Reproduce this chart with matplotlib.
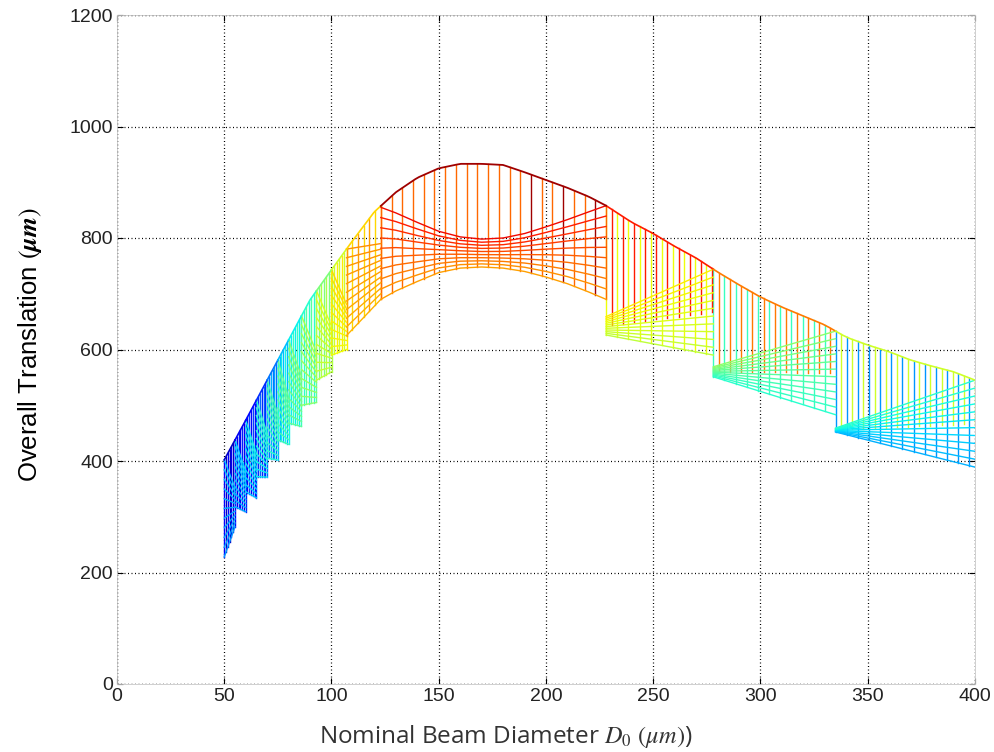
import numpy as np
import matplotlib
matplotlib.use("Agg")
import matplotlib.pyplot as plt

# ---------------- data ----------------
# upper envelope of the mesh
env_D = [50, 60, 70, 80, 90, 100, 110, 120, 130, 140, 150, 160, 170, 180, 190,
         200, 210, 220, 228, 240, 250, 260, 270, 280, 290, 300, 310, 320, 330,
         340, 350, 360, 370, 380, 390, 400]
env_T = [402, 473, 545, 617, 689, 743, 796, 847, 882, 908, 925, 933, 933, 931, 918,
         904, 890, 874, 858, 828, 808, 785, 764, 739, 716, 694, 676, 660, 644,
         622, 608, 596, 581, 570, 560, 545]

# small saw-tooth segments on the rising side
left_start = [50, 55, 60, 65, 70, 75, 80, 86, 93, 100, 107]
left_end = [55, 60, 65, 70, 75, 80, 86, 93, 100, 107, 123]
left_bot_start = [228, 318, 345, 372, 405, 438, 468, 500, 545, 590, 625]
left_bot_end = [282, 309, 334, 371, 402, 430, 462, 505, 560, 600, 690]
left_top_end = [352, 382, 413, 449, 483, 514, 552, 595, 642, 681, 790]
left_vcolor = [0.06, 0.10, 0.13, 0.17, 0.24, 0.31, 0.36, 0.40, 0.50, 0.60, 0.68]
left_rcolor = [0.28, 0.30, 0.33, 0.36, 0.40, 0.43, 0.47, 0.52, 0.58, 0.64, 0.72]

# central segment (curved rows)
mid_D = [123, 130, 140, 150, 160, 170, 180, 190, 200, 210, 220, 228]
mid_top = [855, 845, 828, 812, 802, 798, 800, 808, 820, 833, 847, 858]
mid_bot = [690, 705, 722, 738, 746, 748, 746, 740, 730, 718, 703, 690]

# large saw-tooth segments on the falling side
right_start = [228, 278, 335]
right_end = [278, 335, 400]
right_bot_start = [626, 551, 452]
right_top_start = [659, 569, 459]
right_bot_end = [590, 483, 389]
right_vcolor_a = [0.88, 0.78, 0.60]
right_vcolor_b = [0.64, 0.42, 0.27]
right_rcolor_top = [0.66, 0.52, 0.40]
right_rcolor_bot = [0.58, 0.40, 0.30]

x_ticks = [0, 50, 100, 150, 200, 250, 300, 350, 400]
y_ticks = [0, 200, 400, 600, 800, 1000, 1200]

# ---------------- drawing ----------------
cmap = plt.get_cmap("jet")
plt.rcParams["mathtext.fontset"] = "stix"
fig = plt.figure(figsize=(9.95, 7.52), dpi=100)
ax = fig.add_axes([117 / 995, 68 / 752, 858 / 995, 669 / 752])

LW = 1.0


def env(d):
    return np.interp(d, env_D, env_T)


def draw_seg(s, e, bs, ts, be, te, step, vca, vcb, rct, rcb, n_rows, full_b=True):
    cols = np.arange(s, e + 1e-6, step)
    for i, d in enumerate(cols):
        f = (d - s) / (e - s)
        bot = bs + (be - bs) * f
        top_band = ts + (te - ts) * f
        if i % 2 == 0:
            ax.plot([d, d], [bot, env(d)], color=cmap(vcb), lw=LW, zorder=2)
        else:
            lo = bot if full_b else 0.5 * (bot + top_band)
            ax.plot([d, d], [lo, env(d)], color=cmap(vca), lw=LW, zorder=2.2)
    for j in range(n_rows):
        f = j / (n_rows - 1)
        y0 = bs + (ts - bs) * f
        y1 = be + (te - be) * f
        ax.plot([s, e], [y0, y1], color=cmap(rcb + (rct - rcb) * f), lw=LW, zorder=3)
    dd = np.linspace(s, e, 20)
    ax.plot(dd, env(dd), color=cmap(vca), lw=1.2, zorder=4)


for k in range(len(left_start)):
    s, e = left_start[k], left_end[k]
    draw_seg(s, e, left_bot_start[k], env(s), left_bot_end[k], left_top_end[k],
             (e - s) / 6.0, left_vcolor[k], left_vcolor[k] + 0.06,
             left_rcolor[k] + 0.04, left_rcolor[k], 11)

for k in range(len(right_start)):
    s, e = right_start[k], right_end[k]
    draw_seg(s, e, right_bot_start[k], right_top_start[k], right_bot_end[k], env(e),
             2.6, right_vcolor_a[k], right_vcolor_b[k],
             right_rcolor_top[k], right_rcolor_bot[k], 12, full_b=False)

# central segment
mD = np.array(mid_D, float)
mt = np.array(mid_top, float)
mb = np.array(mid_bot, float)
cols = np.arange(mid_D[0], mid_D[-1] + 1e-6, 5.0)
for i, d in enumerate(cols):
    c = cmap(0.80) if (i % 3 != 2 or d < 180) else cmap(0.97)
    ax.plot([d, d], [np.interp(d, mD, mb), env(d)], color=c, lw=LW, zorder=2)
n_mid = 10
for j in range(n_mid):
    f = j / (n_mid - 1)
    ax.plot(mD, mb + (mt - mb) * f, color=cmap(0.74 + 0.16 * f), lw=LW, zorder=3)
dd = np.linspace(mid_D[0], mid_D[-1], 60)
ax.plot(dd, env(dd), color=cmap(0.97), lw=1.3, zorder=4)

# ---------------- axes styling (MATLAB look) ----------------
ax.set_xlim(0, 400)
ax.set_ylim(0, 1200)
ax.set_xticks(x_ticks)
ax.set_yticks(y_ticks)
ax.set_xticklabels([str(v) for v in x_ticks], family="Liberation Sans", fontsize=14, color="#222222")
ax.set_yticklabels([str(v) for v in y_ticks], family="Liberation Sans", fontsize=14, color="#222222")
ax.tick_params(direction="in", length=4, width=0.8, top=True, right=True, pad=3)
ax.grid(True, color="black", linestyle=(0, (0.8, 2.0)), linewidth=0.9)
ax.set_axisbelow(True)
for sp in ax.spines.values():
    sp.set_color("#c8c8c8")
    sp.set_linewidth(0.6)

for xv in (0, 400):
    ax.axvline(xv, color="black", linestyle=(0, (0.8, 2.0)), linewidth=0.9, zorder=0.5)
for yv in (0, 1200):
    ax.axhline(yv, color="black", linestyle=(0, (0.8, 2.0)), linewidth=0.9, zorder=0.5)

fig.text(30 / 995, 1 - 345 / 752, r"Overall Translation $(\boldsymbol{\mu m})$",
         rotation=90, ha="center", va="center", fontsize=18.5, family="Liberation Sans")
fig.text(506 / 995, 1 - 736 / 752, r"Nominal Beam Diameter $D_0$ $(\mu m)$)",
         ha="center", va="center", fontsize=17.5, family="Open Sans", color="#333333")

fig.savefig("out.png", dpi=100)
